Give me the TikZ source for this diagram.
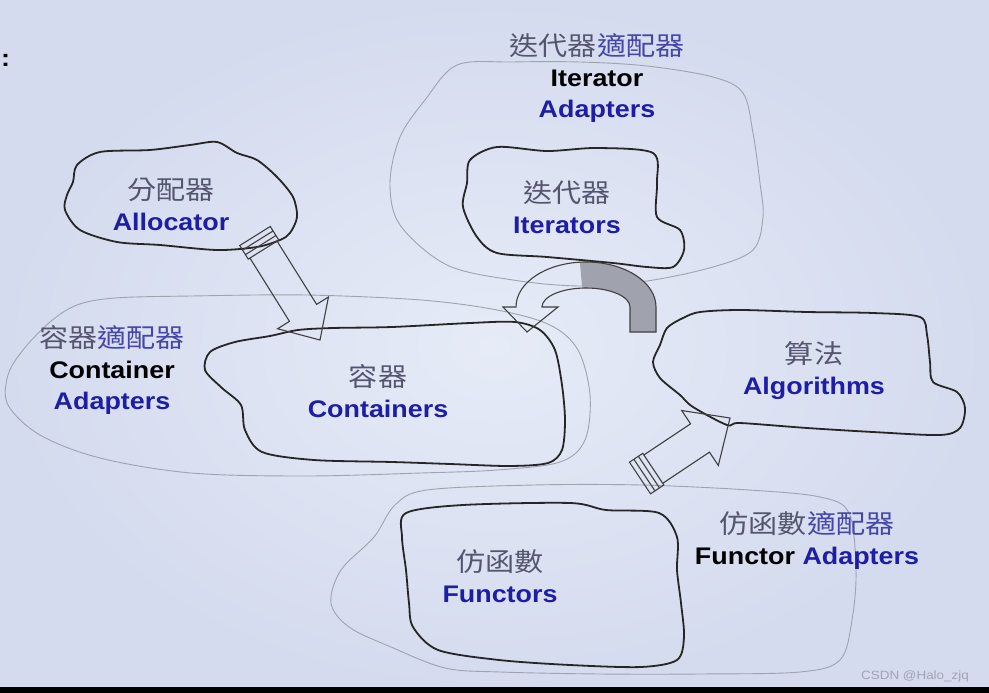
\documentclass[tikz,border=0pt]{standalone}
\usepackage{fontspec}
\setmainfont{Liberation Sans}[FakeStretch=1.12]
\newfontfamily\cjk{Noto Sans CJK TC}[FakeStretch=1.12]
\usetikzlibrary{calc}
\definecolor{bgin}{RGB}{230,235,247}
\definecolor{bgout}{RGB}{212,219,238}
\definecolor{txtblue}{RGB}{30,30,165}
\definecolor{cjkgray}{RGB}{85,85,112}
\definecolor{cjkblue}{RGB}{70,70,168}
\definecolor{rimgray}{RGB}{158,163,174}
\definecolor{loopgray}{RGB}{160,163,174}
\definecolor{wmgray}{RGB}{160,164,176}
\newcommand{\zh}[1]{{\cjk\mdseries\fontsize{26}{31}\selectfont#1}}
% block arrow with striped tail: from, to, shaft half width, head half width, head length
\newcommand{\blockarrow}[5]{%
  \draw[blockarrow] let \p1=(#1), \p2=(#2),
      \n1={atan2(\y2-\y1,\x2-\x1)}, \n2={veclen(\x2-\x1,\y2-\y1)} in
    [shift={(\p1)}, rotate=\n1]
    (16,-#3) -- (\n2-#5,-#3) -- (\n2-#5,-#4) -- (\n2,0) -- (\n2-#5,#4)
      -- (\n2-#5,#3) -- (16,#3)
    (0,-#3-2) -- (16,-#3-2) -- (16,#3+2) -- (0,#3+2) -- cycle
    (5.3,-#3-2) -- (5.3,#3+2) (10.7,-#3-2) -- (10.7,#3+2);
}
\begin{document}
\begin{tikzpicture}[
   x=1pt, y=-1pt,
   rim/.style={draw=rimgray, line width=0.9pt},
   blob/.style={draw=black!85, line width=1.8pt, line join=round},
   lbl/.style={align=center, inner sep=0pt,
      font=\fontsize{24}{31}\selectfont\bfseries},
   blockarrow/.style={draw=black!75, line width=1.1pt, line join=miter},
   looparrow/.style={draw=black!75, line width=1.1pt, line join=miter},
   wmark/.style={font=\fontsize{12}{14}\selectfont, text=wmgray}
]
\useasboundingbox (0,0) rectangle (989,693);
\shade[inner color=bgin, outer color=bgout] (0,0) rectangle (989,693);
\fill[black] (0,687) rectangle (989,693);

% outer adapter rims
\draw[rim] plot[smooth cycle, tension=0.55] coordinates {
   (457,65) (513,62) (580,62) (647,66) (713,77) (743,93) (753,133) (760,183)
   (763,217) (753,250) (713,267) (647,281) (580,286) (513,280) (447,265)
   (400,225) (390,183) (400,137) (425,100)};
\draw[rim] plot[smooth cycle, tension=0.55] coordinates {
   (50,322) (77,305) (115,298) (191,296) (306,295) (421,300) (497,310)
   (550,325) (578,350) (590,395) (585,440) (560,462) (497,470) (421,473)
   (306,476) (191,473) (100,458) (40,435) (8,405) (8,375) (23,350)};
\draw[rim] plot[smooth cycle, tension=0.55] coordinates {
   (427,490) (534,485) (641,485) (749,490) (820,497) (849,513) (856,570)
   (852,620) (840,660) (800,672) (700,674) (600,674) (500,672) (445,668)
   (391,647) (349,627) (331,603) (341,570) (374,537) (395,505)};

% components
\draw[blob] plot[smooth cycle, tension=0.5] coordinates {
   (77,165) (100,152) (150,150) (190,145) (217,142) (237,153) (257,160)
   (277,177) (293,197) (297,217) (290,233) (280,240) (257,247) (217,250)
   (160,245) (117,242) (80,230) (65,210) (67,195) (73,182)};
\draw[blob] plot[smooth cycle, tension=0.5] coordinates {
   (470,160) (497,147) (547,151) (597,148) (653,153) (657,183) (657,217)
   (680,230) (684,250) (673,267) (647,267) (613,263) (547,257) (497,253)
   (477,237) (463,207) (467,183)};
\draw[blob] plot[smooth cycle, tension=0.5] coordinates {
   (298,330) (333,328) (392,327) (470,323) (515,322) (540,330) (555,350)
   (562,385) (565,420) (562,450) (548,463) (510,466) (450,464) (392,462)
   (314,460) (262,452) (245,430) (241,405) (222,388) (205,370) (210,352)
   (235,342) (270,336)};
\draw[blob] plot[smooth cycle, tension=0.5] coordinates {
   (700,312) (740,310) (807,312) (873,313) (920,317) (927,335) (930,362)
   (933,382) (957,392) (965,408) (960,428) (940,435) (873,432) (807,428)
   (740,423) (727,425) (693,407) (680,395) (660,378) (653,362) (660,345)
   (667,328) (683,318)};
\draw[blob] plot[smooth cycle, tension=0.5] coordinates {
   (406,513) (463,505) (570,503) (606,510) (659,513) (677,537) (677,570)
   (681,603) (684,637) (677,660) (641,667) (570,665) (499,660) (438,650)
   (413,627) (409,603) (406,570) (402,537)};

% arrows
\coordinate (alloc-out) at (255,236);
\coordinate (cont-in) at (320,340);
\coordinate (func-out) at (640,478);
\coordinate (algo-in) at (730,418);
\coordinate (loop-c) at (586,307);
\blockarrow{alloc-out}{cont-in}{16}{30}{32}
\blockarrow{func-out}{algo-in}{17}{33}{36}
\fill[loopgray, shift={(loop-c)}] (70,25) -- (70,0)
   arc[start angle=0, end angle=95, x radius=70pt, y radius=45pt]
   -- (-3.83,-18.93)
   arc[start angle=95, end angle=0, x radius=44pt, y radius=19pt]
   -- (44,25) -- cycle;
\draw[looparrow, shift={(loop-c)}] (70,25) -- (70,0)
   arc[start angle=0, end angle=180, x radius=70pt, y radius=45pt]
   -- (-83,0) -- (-59,25) -- (-28,0) -- (-44,0)
   arc[start angle=180, end angle=0, x radius=44pt, y radius=19pt]
   -- (44,25) -- cycle;

% labels
\node[lbl] (iteradp-lbl) at (597,78)
   {\zh{\color{cjkgray}迭代器\color{cjkblue}適配器}\\ Iterator\\
    {\color{txtblue}Adapters}};
\node[lbl] (alloc-lbl) at (171,204)
   {\zh{\color{cjkgray}分配器}\\ {\color{txtblue}Allocator}};
\node[lbl] (iter-lbl) at (567,207)
   {\zh{\color{cjkgray}迭代器}\\ {\color{txtblue}Iterators}};
\node[lbl] (contadp-lbl) at (112,370)
   {\zh{\color{cjkgray}容器\color{cjkblue}適配器}\\ Container\\
    {\color{txtblue}Adapters}};
\node[lbl] (cont-lbl) at (378,391)
   {\zh{\color{cjkgray}容器}\\ {\color{txtblue}Containers}};
\node[lbl] (algo-lbl) at (814,371)
   {\zh{\color{cjkgray}算法}\\ {\color{txtblue}Algorithms}};
\node[lbl] (funcadp-lbl) at (807,540)
   {\zh{\color{cjkgray}仿函數\color{cjkblue}適配器}\\
    Functor {\color{txtblue}Adapters}};
\node[lbl] (func-lbl) at (500,576)
   {\zh{\color{cjkgray}仿函數}\\ {\color{txtblue}Functors}};
\node[lbl, anchor=west] (colon) at (1,60) {:};
\node[wmark] (csdn) at (915,676) {CSDN @Halo\_zjq};
\end{tikzpicture}
\end{document}
